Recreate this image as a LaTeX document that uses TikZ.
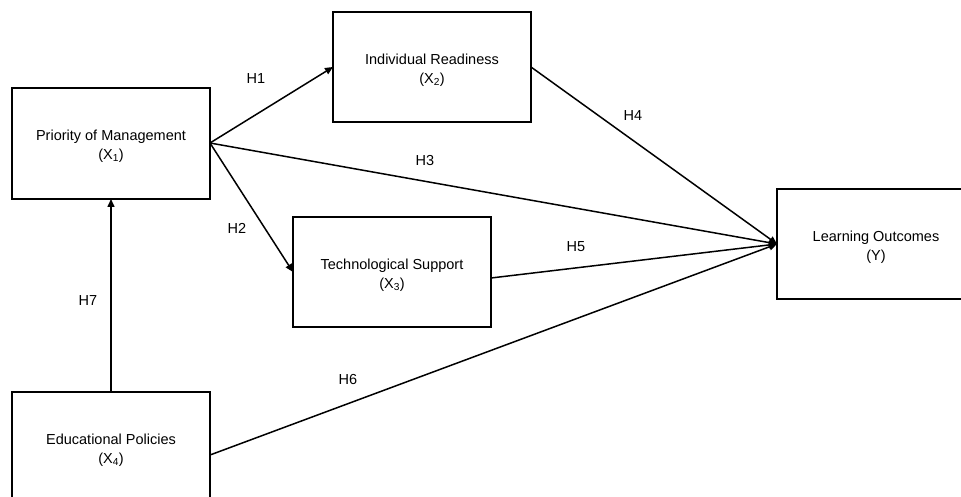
\documentclass[tikz,border=0pt]{standalone}
\usepackage{fontspec}
\setmainfont{Liberation Sans}
\usetikzlibrary{arrows.meta}
\begin{document}
\begin{tikzpicture}[x=1pt,y=-1pt,
  box/.style={draw,line width=1.5pt,inner sep=0pt},
  lbl/.style={font=\fontsize{14.5}{19}\selectfont,align=center},
  hl/.style={font=\fontsize{14.5}{17}\selectfont},
  conn/.style={line width=1.5pt,-{Triangle[length=8pt,width=7pt]}}]
\useasboundingbox (0,0) rectangle (961,497);
\clip (0,0) rectangle (961,497);
% boxes
\draw[box] (12,88) rectangle (210,199);
\draw[box] (333,12) rectangle (531,122);
\draw[box] (293,217) rectangle (491,327);
\draw[box] (777,189) rectangle (975,299);
\draw[box] (12,392) rectangle (210,503);
% texts
\node[lbl] (x1) at (111,146) {Priority of Management\\(X\textsubscript{1})};
\node[lbl] (x2) at (432,70) {Individual Readiness\\(X\textsubscript{2})};
\node[lbl] (x3) at (392,275) {Technological Support\\(X\textsubscript{3})};
\node[lbl] (y) at (876,247) {Learning Outcomes\\(Y)};
\node[lbl] (x4) at (111,450) {Educational Policies\\(X\textsubscript{4})};
% anchor coordinates
\coordinate (x1r) at (210,143);
\coordinate (x1b) at (111,199);
\coordinate (x2l) at (333,67);
\coordinate (x2r) at (531,67);
\coordinate (x3l) at (293,272);
\coordinate (x3r) at (491,278);
\coordinate (yl) at (777,244);
\coordinate (x4t) at (111,392);
\coordinate (x4r) at (210,455);
% connectors
\draw[conn] (x1r) -- (x2l);
\draw[conn] (x1r) -- (x3l);
\draw[conn] (x1r) -- (yl);
\draw[conn] (x2r) -- (yl);
\draw[conn] (x3r) -- (yl);
\draw[conn] (x4r) -- (yl);
\draw[conn] (x4t) -- (x1b);
% labels
\node[hl] (h1) at (256,79) {H1};
\node[hl] (h2) at (237,228) {H2};
\node[hl] (h3) at (425,161) {H3};
\node[hl] (h4) at (633,116) {H4};
\node[hl] (h5) at (576,247) {H5};
\node[hl] (h6) at (348,380) {H6};
\node[hl] (h7) at (88,301) {H7};
\end{tikzpicture}
\end{document}
